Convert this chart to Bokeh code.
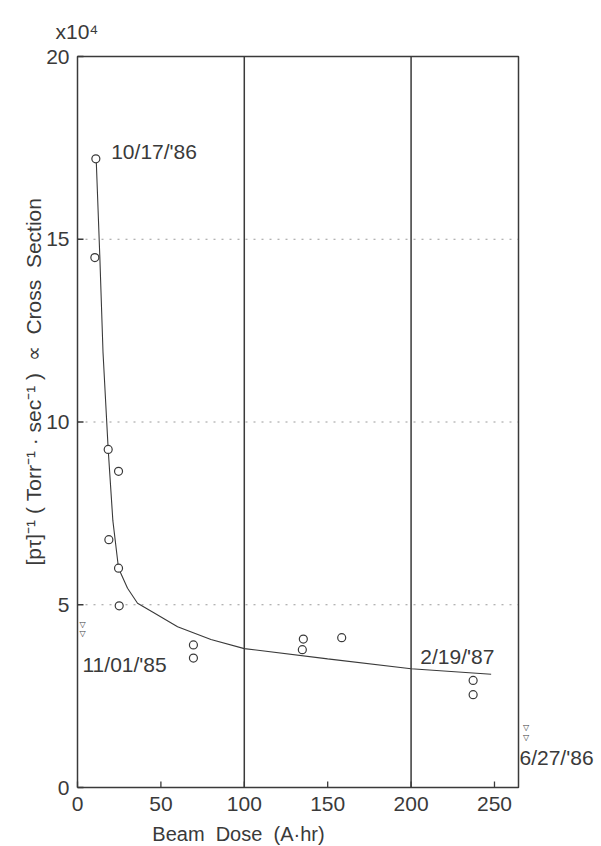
import math

from bokeh.plotting import figure
from bokeh.models import Range1d
from bokeh.core.properties import value
from bokeh.embed import file_html
from bokeh.resources import INLINE

# Measured inverse lifetime (x10^4 Torr^-1 sec^-1) against accumulated beam dose (A*hr)
dose = [11.0, 10.4, 18.4, 24.6, 18.8, 24.6, 25.0, 69.5, 69.5, 135.4, 134.8, 158.4, 237.2, 237.2]
sigma = [17.2, 14.5, 9.25, 8.65, 6.78, 6.0, 4.97, 3.9, 3.54, 4.06, 3.77, 4.1, 2.93, 2.54]

# Hand-drawn trend curve through the measurements
fit_dose = [11.2, 13.4, 15.3, 18.4, 21.2, 24.6, 30.0, 36.0, 45.0, 60.0, 80.0, 100.0, 150.0, 200.0, 248.0]
fit_sigma = [17.2, 14.5, 11.9, 9.25, 7.3, 6.0, 5.45, 5.04, 4.8, 4.4, 4.05, 3.8, 3.52, 3.25, 3.1]

# Dates of machine events
dates = ["10/17/'86", "11/01/'85", "2/19/'87", "6/27/'86"]
date_x = [20.2, 3.0, 205.5, 265.0]
date_y = [17.4, 3.37, 3.58, 0.82]

# Double-triangle markers for the two out-of-sequence dates
marker_x = [3.0, 3.0, 269.0, 269.0]
marker_y = [4.46, 4.2, 1.65, 1.37]

# Axis extent and ticks
x_min, x_max = 0.0, 264.4
y_min, y_max = 0.0, 20.0
x_ticks = [0, 50, 100, 150, 200, 250]
y_ticks = [0, 5, 10, 15, 20]
grid_levels = [5, 10, 15]
dose_lines = [100, 200]

INK = "#3a3a3a"
FONT = "Liberation Sans"
SP = "\u00a0"   # non-collapsing space for the spaced-out titles

W, H = 601, 846
LEFT, RIGHT, TOP, BOTTOM = 77, 518, 56, 787          # axes box inside the canvas
kx = (RIGHT - LEFT) / (x_max - x_min)                 # px per A*hr
ky = (BOTTOM - TOP) / (y_max - y_min)                 # px per 10^4 unit

# The drawing area covers the whole canvas so that titles and
# date notes outside the axes box are not clipped.
p = figure(
    width=W, height=H,
    output_backend="svg", toolbar_location=None,
    x_range=Range1d(x_min - LEFT / kx, x_max + (W - RIGHT) / kx),
    y_range=Range1d(y_min - (H - BOTTOM) / ky, y_max + TOP / ky),
    x_axis_location=None, y_axis_location=None,
    min_border=0, background_fill_color="white", border_fill_color="white",
)
p.outline_line_color = None
p.grid.visible = False

# Faint dotted guide lines
p.segment(x0=[x_min] * len(grid_levels), y0=grid_levels,
          x1=[x_max] * len(grid_levels), y1=grid_levels,
          line_color="#9a9a9a", line_dash="2 6", line_width=1)

# Solid reference lines at 100 and 200 A*hr
p.segment(x0=dose_lines, y0=[y_min] * len(dose_lines),
          x1=dose_lines, y1=[y_max] * len(dose_lines),
          line_color=INK, line_width=1.5)

# Axes box
p.line([x_min, x_max, x_max, x_min, x_min], [y_min, y_min, y_max, y_max, y_min],
       line_color=INK, line_width=1.5)

# Inward tick marks (6 px)
p.segment(x0=x_ticks, y0=[y_min] * len(x_ticks), x1=x_ticks,
          y1=[y_min + 6 / ky] * len(x_ticks), line_color=INK, line_width=1.3)
p.segment(x0=[x_min] * len(y_ticks), y0=y_ticks,
          x1=[x_min + 6 / kx] * len(y_ticks), y1=y_ticks, line_color=INK, line_width=1.3)

# Tick labels
p.text(x=x_ticks, y=[y_min - 16 / ky] * len(x_ticks), text=[str(t) for t in x_ticks],
       text_font=value(FONT), text_font_size=value("21px"), text_color=INK,
       text_align="center", text_baseline="middle")
p.text(x=[x_min - 8 / kx] * len(y_ticks), y=y_ticks, text=[str(t) for t in y_ticks],
       text_font=value(FONT), text_font_size=value("21px"), text_color=INK,
       text_align="right", text_baseline="middle")

# Exponent of the y scale above the axis
p.text(x=[x_min - 22 / kx], y=[y_max + 25 / ky], text=["x10\u2074"],
       text_font=value(FONT), text_font_size=value("21px"), text_color=INK,
       text_align="left", text_baseline="middle")

# Trend curve and measurements
p.line(fit_dose, fit_sigma, line_color=INK, line_width=1.1)
p.scatter(dose, sigma, marker="circle", size=8, fill_color="white",
          line_color=INK, line_width=1.2)

# Date notes and their markers
p.text(x=date_x, y=date_y, text=dates, text_font=value(FONT), text_font_size=value("21px"),
       text_color=INK, text_align="left", text_baseline="middle")
p.text(x=marker_x, y=marker_y, text=["\u25bd"] * len(marker_x), text_font=value("DejaVu Sans"),
       text_font_size=value("8px"), text_color=INK, text_align="center", text_baseline="middle")

# Axis titles
x_title = SP.join(["Beam", "", "Dose", "", "(A\u00b7hr)"])
y_title = SP.join(["[p\u03c4]\u207b\u00b9", "(", "Torr\u207b\u00b9", "\u00b7", "sec\u207b\u00b9", ")",
                   "", "\u221d", "", "Cross", "", "Section"])
p.text(x=[96.5], y=[y_min - 46 / ky], text=[x_title],
       text_font=value(FONT), text_font_size=value("20px"), text_color=INK,
       text_align="center", text_baseline="middle")
p.text(x=[x_min - 44 / kx], y=[11.1], angle=math.pi / 2, text=[y_title],
       text_font=value(FONT), text_font_size=value("21px"), text_color=INK,
       text_align="center", text_baseline="middle")

open("out.html", "w").write(file_html(p, INLINE))
